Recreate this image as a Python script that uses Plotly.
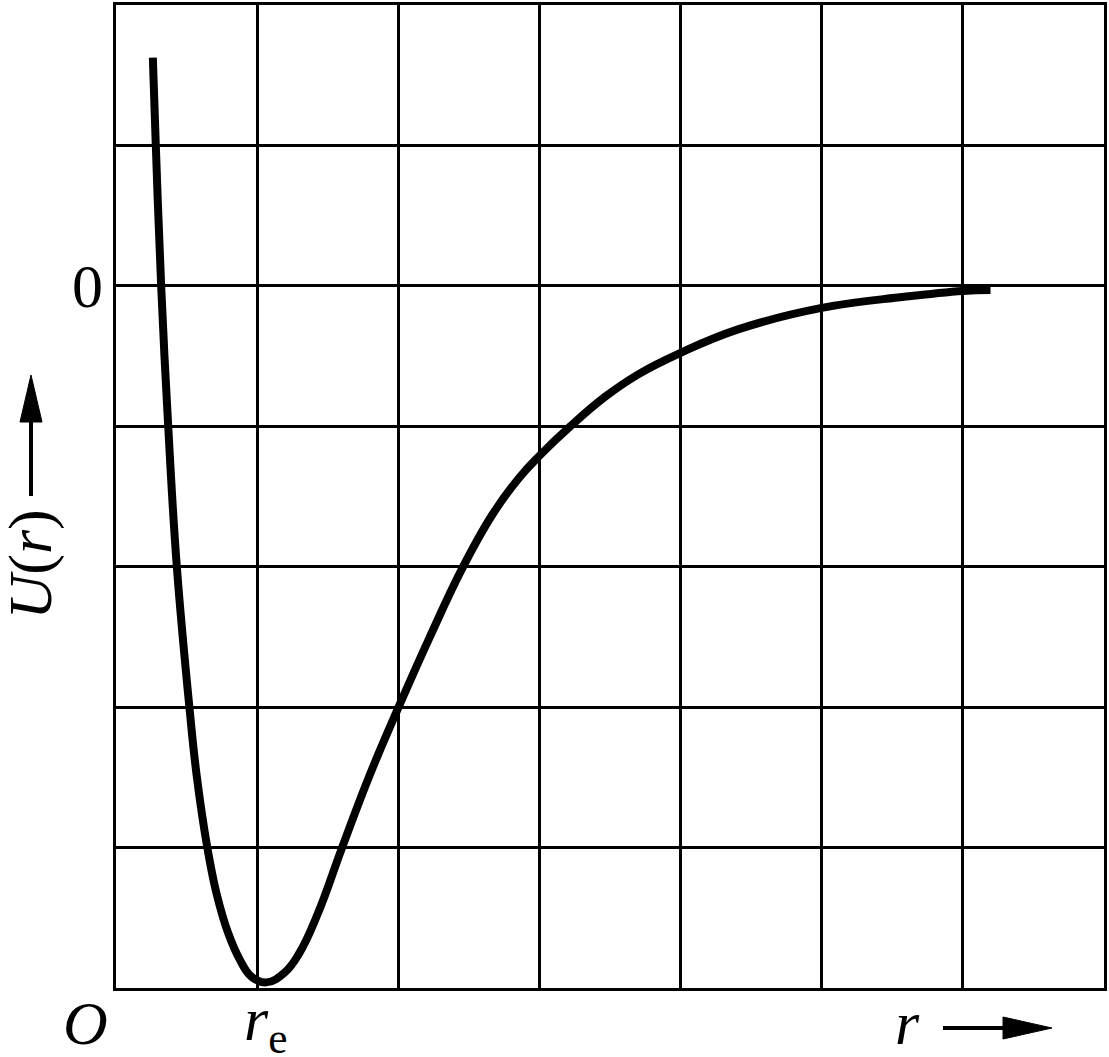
import plotly.graph_objects as go

# Potential energy curve U(r) (grid units)
r_vals = [0.261, 0.282, 0.320, 0.370, 0.431, 0.520, 0.572, 0.647, 0.713, 0.795, 0.878,
          0.960, 1.066, 1.195, 1.300, 1.430, 1.602, 1.795, 2.002, 2.219, 2.454, 2.666,
          2.854, 3.000, 3.219, 3.465, 3.70, 4.0, 4.407, 5.0, 5.584, 6.0, 6.196]
u_vals = [1.626, 1.0, 0.0, -1.0, -2.0, -3.0, -3.49, -4.0, -4.33, -4.61, -4.80,
          -4.92, -4.96, -4.89, -4.75, -4.47, -4.0, -3.49, -3.0, -2.51, -2.01, -1.63,
          -1.37, -1.21, -1.0, -0.79, -0.63, -0.477, -0.31, -0.157, -0.078, -0.036, -0.03]

x_range = [0, 7]
y_range = [-5, 2]

FONT = "Liberation Serif, Times New Roman, serif"
FS = 62

fig = go.Figure()
fig.add_trace(go.Scatter(x=r_vals, y=u_vals, mode="lines",
                         line=dict(color="black", width=8, shape="spline", smoothing=1.2),
                         hoverinfo="skip", showlegend=False))

axis_common = dict(showgrid=True, gridcolor="black", gridwidth=3, dtick=1,
                   showticklabels=False, ticks="", showline=True, linecolor="black",
                   linewidth=3, mirror=True, zeroline=False, fixedrange=True)
fig.update_xaxes(range=x_range, tick0=0, **axis_common)
fig.update_yaxes(range=y_range, tick0=0, **axis_common)

annotations = [
    dict(text="0", x=-0.0293, xref="paper", y=0, yref="y", showarrow=False,
         xanchor="center", yanchor="middle", font=dict(size=FS, family=FONT, color="black")),
    dict(text="<i>O</i>", x=-0.031, xref="paper", y=-0.036, yref="paper", showarrow=False,
         xanchor="center", yanchor="middle", font=dict(size=FS, family=FONT, color="black")),
    dict(text="<i>r</i><sub>e</sub>", x=1.06, xref="x", y=-0.036, yref="paper", showarrow=False,
         xanchor="center", yanchor="middle", font=dict(size=FS, family=FONT, color="black")),
    dict(text="<i>r</i>", x=(910 - 116) / 991, xref="paper", y=-0.036, yref="paper", showarrow=False,
         xanchor="center", yanchor="middle", font=dict(size=FS, family=FONT, color="black")),
    dict(text="<i>U</i>(<i>r</i>)", x=(30 - 116) / 991, xref="paper", y=(988 - 563) / 986, yref="paper",
         showarrow=False, textangle=-90, xanchor="center", yanchor="middle",
         font=dict(size=FS, family=FONT, color="black")),
]

shapes = [
    # x-axis arrow (pixel offsets from plot bottom-left corner, y up)
    dict(type="path", xref="paper", yref="paper", xsizemode="pixel", ysizemode="pixel",
         xanchor=0, yanchor=0, path="M 827,-40 L 892,-40",
         line=dict(color="black", width=4)),
    dict(type="path", xref="paper", yref="paper", xsizemode="pixel", ysizemode="pixel",
         xanchor=0, yanchor=0, path="M 887,-29 L 936,-40 L 887,-51 Z",
         fillcolor="black", line=dict(color="black", width=1)),
    # y-axis arrow
    dict(type="path", xref="paper", yref="paper", xsizemode="pixel", ysizemode="pixel",
         xanchor=0, yanchor=0, path="M -85,492 L -85,570",
         line=dict(color="black", width=4)),
    dict(type="path", xref="paper", yref="paper", xsizemode="pixel", ysizemode="pixel",
         xanchor=0, yanchor=0, path="M -96,566 L -85,613 L -74,566 Z",
         fillcolor="black", line=dict(color="black", width=1)),
]

fig.update_layout(width=1109, height=1057, margin=dict(l=116, r=2, t=2, b=69),
                  paper_bgcolor="white", plot_bgcolor="white",
                  annotations=annotations, shapes=shapes, showlegend=False)

fig.write_html("out.html", config={"displayModeBar": False, "staticPlot": False},
               post_script="document.body.style.margin='0';document.body.style.padding='0';"
                           "document.body.style.overflow='hidden';")
